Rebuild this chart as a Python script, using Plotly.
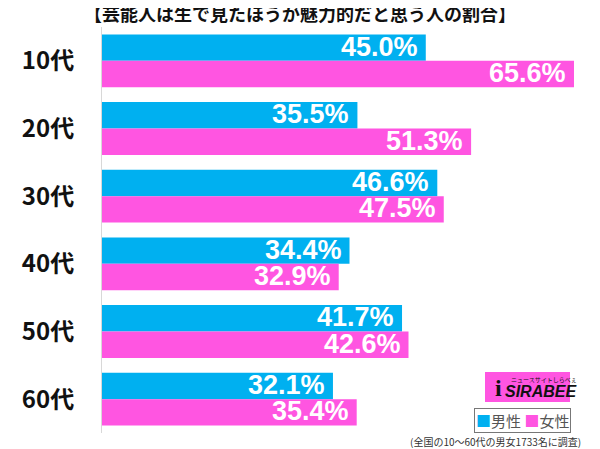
import plotly.graph_objects as go

categories = ["10代", "20代", "30代", "40代", "50代", "60代"]
male = [45.0, 35.5, 46.6, 34.4, 41.7, 32.1]
female = [65.6, 51.3, 47.5, 32.9, 42.6, 35.4]
series_names = ["男性", "女性"]
title = "【芸能人は生で見たほうが魅力的だと思う人の割合】"
footnote = "(全国の10～60代の男女1733名に調査)"

BLUE = "#00B0F0"
PINK = "#FF55E1"

# page body has an 8px default margin; build the figure in page coordinates minus that
OFF = 8
W, H = 600 - OFF, 449 - OFF
PL, PR, PT, PB = 102, 600, 27, 433   # plot area in page pixels
L, R, T, B = PL - OFF, (600 - OFF) - (PR - OFF), PT - OFF, H - (PB - OFF)
PW, PH = W - L - R, H - T - B

def px(x):
    return (x - PL) / PW

def py(y):
    return (PB - y) / PH

fig = go.Figure()
fig.add_trace(go.Bar(y=categories, x=male, orientation="h", name=series_names[0],
                     marker=dict(color=BLUE, line=dict(width=0))))
fig.add_trace(go.Bar(y=categories, x=female, orientation="h", name=series_names[1],
                     marker=dict(color=PINK, line=dict(width=0))))

annotations = []
for i, c in enumerate(categories):
    for vals, off in [(male, -0.195), (female, 0.195)]:
        annotations.append(dict(
            x=vals[i], y=i + off, xref="x", yref="y",
            text=f"<b>{vals[i]:.1f}%</b>", showarrow=False,
            xanchor="right", yanchor="middle", xshift=-6, yshift=1,
            font=dict(family="Liberation Sans, Arial", size=27, color="white")))

annotations.append(dict(x=px(300), y=py(13), xref="paper", yref="paper",
                        text=f"<b>{title}</b>", showarrow=False,
                        xanchor="center", yanchor="middle",
                        font=dict(family="Noto Sans CJK JP", size=18, color="#111")))
annotations.append(dict(x=px(522.5), y=py(420.5), xref="paper", yref="paper",
                        text=f'<span style="color:{BLUE}">■</span>{series_names[0]} '
                             f'<span style="color:{PINK}">■</span>{series_names[1]}',
                        showarrow=False, xanchor="center", yanchor="middle",
                        bordercolor="#777", borderwidth=1, borderpad=1,
                        bgcolor="white",
                        font=dict(family="Noto Sans CJK JP", size=15, color="#555")))
annotations.append(dict(x=px(583), y=py(441), xref="paper", yref="paper",
                        text=footnote, showarrow=False, xanchor="right", yanchor="middle",
                        font=dict(family="Noto Sans CJK JP", size=10, color="#333")))
annotations.append(dict(x=px(541), y=py(391), xref="paper", yref="paper",
                        text="<b><i>SIRABEE</i></b>", showarrow=False,
                        xanchor="center", yanchor="middle",
                        font=dict(family="Liberation Sans", size=16, color="#111")))
annotations.append(dict(x=px(544), y=py(379), xref="paper", yref="paper",
                        text="ニュースサイトしらべぇ", showarrow=False,
                        xanchor="center", yanchor="middle",
                        font=dict(family="Noto Sans CJK JP", size=6, color="#111")))
annotations.append(dict(x=px(498), y=py(388), xref="paper", yref="paper",
                        text="<b>i</b>", showarrow=False,
                        xanchor="center", yanchor="middle",
                        font=dict(family="Liberation Serif", size=24, color="#111")))

shapes = [dict(type="rect", xref="paper", yref="paper",
               x0=px(485), x1=px(570), y0=py(402), y1=py(372),
               fillcolor=PINK, line=dict(width=0), layer="below")]

fig.update_layout(
    width=W, height=H,
    margin=dict(l=L, r=R, t=T, b=B, pad=0, autoexpand=False),
    paper_bgcolor="white", plot_bgcolor="rgba(0,0,0,0)",
    barmode="group", bargap=0.22, bargroupgap=0,
    showlegend=False,
    xaxis=dict(range=[0, PW / 7.195], visible=False, fixedrange=True, automargin=False),
    yaxis=dict(autorange="reversed", showline=True, linecolor="#d8d8d8", linewidth=1,
               ticks="", ticklabelstandoff=22, showgrid=False, automargin=False,
               tickfont=dict(family="Noto Sans CJK JP", size=24, color="#111"),
               tickprefix="<b>", ticksuffix="</b>"),
    annotations=annotations, shapes=shapes,
)
fig.write_html("out.html")
